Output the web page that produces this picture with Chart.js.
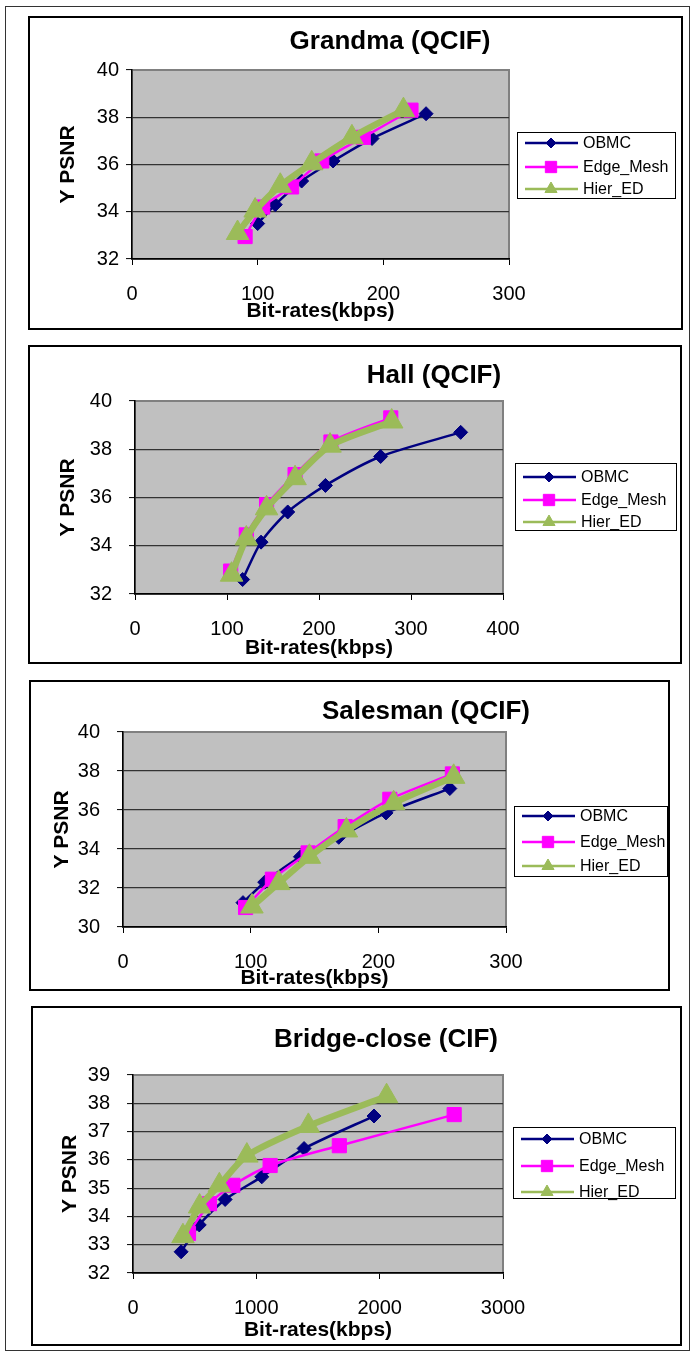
<!DOCTYPE html>
<html>
<head>
<meta charset="utf-8">
<script src="https://cdn.jsdelivr.net/npm/chart.js@4.4.0/dist/chart.umd.min.js"></script>
<style>
  body { margin: 0; background: #fff; width: 696px; height: 1355px; position: relative; overflow: hidden; }
  #frame { position: absolute; left: 5px; top: 6px; width: 685px; height: 1345px; border: 1px solid #333; box-sizing: border-box; }
  .box { position: absolute; border: 2px solid #000; box-sizing: border-box; background: #fff; }
  .box canvas { position: absolute; left: 0; top: 0; }
</style>
</head>
<body>
<div id="frame"></div>
<div class="box" id="b0"><canvas id="c0"></canvas></div>
<div class="box" id="b1"><canvas id="c1"></canvas></div>
<div class="box" id="b2"><canvas id="c2"></canvas></div>
<div class="box" id="b3"><canvas id="c3"></canvas></div>
<script>
// ---- data ----
const seriesNames = ['OBMC', 'Edge_Mesh', 'Hier_ED'];
const chartTitles = ['Grandma (QCIF)', 'Hall (QCIF)', 'Salesman (QCIF)', 'Bridge-close (CIF)'];
const xAxisTitle = 'Bit-rates(kbps)';
const yAxisTitle = 'Y PSNR';

const grandmaXTicks = [0, 100, 200, 300];
const grandmaYTicks = [32, 34, 36, 38, 40];
const grandmaObmcRate = [100, 114, 135, 160, 191, 234];
const grandmaObmcPsnr = [33.5, 34.3, 35.3, 36.15, 37.1, 38.15];
const grandmaEdgeRate = [90, 104, 127, 151, 184, 222];
const grandmaEdgePsnr = [32.95, 34.2, 35.05, 36.15, 37.15, 38.3];
const grandmaHierRate = [84, 98, 118, 143, 175, 216];
const grandmaHierPsnr = [33.1, 34.05, 35.1, 36.05, 37.15, 38.3];

const hallXTicks = [0, 100, 200, 300, 400];
const hallYTicks = [32, 34, 36, 38, 40];
const hallObmcRate = [117, 137, 166, 207, 267, 354];
const hallObmcPsnr = [32.6, 34.15, 35.4, 36.5, 37.7, 38.7];
const hallEdgeRate = [104, 121, 143, 174, 213, 278];
const hallEdgePsnr = [32.95, 34.45, 35.7, 36.95, 38.3, 39.3];
const hallHierRate = [105, 121, 143, 174, 212, 279];
const hallHierPsnr = [32.8, 34.3, 35.55, 36.8, 38.15, 39.15];

const salesmanXTicks = [0, 100, 200, 300];
const salesmanYTicks = [30, 32, 34, 36, 38, 40];
const salesmanObmcRate = [94, 111, 139, 169, 206, 256];
const salesmanObmcPsnr = [31.25, 32.3, 33.6, 34.6, 35.85, 37.1];
const salesmanEdgeRate = [96, 117, 145, 174, 209, 258];
const salesmanEdgePsnr = [31.0, 32.45, 33.8, 35.15, 36.55, 37.85];
const salesmanHierRate = [101, 122, 146, 175, 212, 259];
const salesmanHierPsnr = [31.05, 32.25, 33.6, 34.95, 36.35, 37.7];

const bridgeXTicks = [0, 1000, 2000, 3000];
const bridgeYTicks = [32, 33, 34, 35, 36, 37, 38, 39];
const bridgeObmcRate = [390, 537, 747, 1044, 1387, 1954];
const bridgeObmcPsnr = [32.75, 33.7, 34.6, 35.4, 36.4, 37.55];
const bridgeEdgeRate = [450, 620, 810, 1112, 1673, 2604];
const bridgeEdgePsnr = [33.4, 34.45, 35.1, 35.8, 36.5, 37.6];
const bridgeHierRate = [405, 540, 700, 923, 1422, 2056];
const bridgeHierPsnr = [33.3, 34.35, 35.1, 36.15, 37.2, 38.25];

// ---- styling / layout (page pixels) ----
const FONT = '"Liberation Sans", Arial, sans-serif';
const seriesStyle = [
  { color: '#000080', point: 'rectRot', radius: 7, width: 2.5, legendRadius: 5, order: 3 },
  { color: '#ff00ff', point: 'rect', radius: 10, width: 2.5, legendRadius: 8, order: 2 },
  { color: '#9bbb59', point: 'triangle', radius: 13, width: 6.5, legendRadius: 7, order: 1 }
];

const panels = [
  { box: [28, 16, 683, 330], plot: [132, 70, 509, 259], title: [390, 42], yTitleX: 68, xTitleOff: 52, yPad: 7,
    legend: [517, 132, 676, 199], rows: [143, 167, 189] },
  { box: [28, 345, 682, 664], plot: [135, 401, 503, 594], title: [434, 376], yTitleX: 68, xTitleOff: 54, yPad: 17,
    legend: [515, 463, 677, 531], rows: [477, 500, 522] },
  { box: [29, 680, 670, 991], plot: [123, 732, 506, 927], title: [426, 712], yTitleX: 62, xTitleOff: 51, yPad: 17,
    legend: [514, 806, 668, 877], rows: [816, 842, 866] },
  { box: [31, 1006, 682, 1346], plot: [133, 1075, 503, 1273], title: [386, 1040], yTitleX: 70, xTitleOff: 57, yPad: 17,
    legend: [513, 1127, 676, 1199], rows: [1139, 1166, 1192] }
];

const chartData = [
  { xTicks: grandmaXTicks, yTicks: grandmaYTicks,
    rates: [grandmaObmcRate, grandmaEdgeRate, grandmaHierRate], psnr: [grandmaObmcPsnr, grandmaEdgePsnr, grandmaHierPsnr] },
  { xTicks: hallXTicks, yTicks: hallYTicks,
    rates: [hallObmcRate, hallEdgeRate, hallHierRate], psnr: [hallObmcPsnr, hallEdgePsnr, hallHierPsnr] },
  { xTicks: salesmanXTicks, yTicks: salesmanYTicks,
    rates: [salesmanObmcRate, salesmanEdgeRate, salesmanHierRate], psnr: [salesmanObmcPsnr, salesmanEdgePsnr, salesmanHierPsnr] },
  { xTicks: bridgeXTicks, yTicks: bridgeYTicks,
    rates: [bridgeObmcRate, bridgeEdgeRate, bridgeHierRate], psnr: [bridgeObmcPsnr, bridgeEdgePsnr, bridgeHierPsnr] }
];

// gray plot area, chart title and boxed legend
const panelPlugin = {
  id: 'panel',
  beforeDraw(chart) {
    const { ctx, chartArea: a } = chart;
    ctx.save();
    ctx.fillStyle = '#c0c0c0';
    ctx.fillRect(a.left, a.top, a.width, a.height);
    ctx.strokeStyle = '#808080';
    ctx.lineWidth = 2;
    ctx.strokeRect(a.left, a.top, a.width, a.height);
    ctx.restore();
  },
  afterDraw(chart, args, o) {
    const ctx = chart.ctx;
    ctx.save();
    ctx.fillStyle = '#000';
    ctx.font = 'bold 26px ' + FONT;
    ctx.textAlign = 'center';
    ctx.textBaseline = 'middle';
    ctx.fillText(o.title, o.titleX, o.titleY);

    const [l, t, r, b] = o.legend;
    ctx.fillStyle = '#fff';
    ctx.fillRect(l, t, r - l, b - t);
    ctx.strokeStyle = '#000';
    ctx.lineWidth = 1;
    ctx.strokeRect(l + 0.5, t + 0.5, r - l - 1, b - t - 1);
    chart.data.datasets.forEach((ds, i) => {
      const y = o.rows[i];
      const st = seriesStyle[i];
      ctx.strokeStyle = st.color;
      ctx.lineWidth = 2.5;
      ctx.beginPath();
      ctx.moveTo(l + 8, y);
      ctx.lineTo(l + 61, y);
      ctx.stroke();
      ctx.fillStyle = st.color;
      ctx.lineWidth = 1;
      Chart.helpers.drawPoint(ctx, { pointStyle: st.point, radius: st.legendRadius, rotation: 0, borderWidth: 1 }, l + 34, y);
      ctx.fillStyle = '#000';
      ctx.font = '16px ' + FONT;
      ctx.textAlign = 'left';
      ctx.fillText(ds.label, l + 66, y + 1);
    });
    ctx.restore();
  }
};

panels.forEach((p, k) => {
  const d = chartData[k];
  const [bl, bt, br, bb] = p.box;
  const box = document.getElementById('b' + k);
  box.style.left = bl + 'px';
  box.style.top = bt + 'px';
  box.style.width = (br - bl) + 'px';
  box.style.height = (bb - bt) + 'px';
  const ox = bl + 2, oy = bt + 2;
  const cw = br - bl - 4, ch = bb - bt - 4;
  const canvas = document.getElementById('c' + k);
  canvas.width = cw;
  canvas.height = ch;

  const [pl, pt, pr, pb] = p.plot;
  const yW = pl - ox;
  const xH = oy + ch - pb;
  const titleLH = 21 * 1.2;
  const yMax = d.yTicks[d.yTicks.length - 1];

  const datasets = seriesNames.map((name, i) => {
    const st = seriesStyle[i];
    return {
      label: name,
      data: d.rates[i].map((v, j) => ({ x: v, y: d.psnr[i][j] })),
      borderColor: st.color,
      backgroundColor: st.color,
      borderWidth: st.width,
      pointStyle: st.point,
      pointRadius: st.radius,
      pointBorderWidth: 1,
      pointBackgroundColor: st.color,
      pointBorderColor: st.color,
      tension: 0.25,
      order: st.order,
      clip: 20
    };
  });

  new Chart(canvas, {
    type: 'line',
    data: { datasets },
    plugins: [panelPlugin],
    options: {
      responsive: false,
      animation: false,
      events: [],
      layout: { padding: { left: 0, bottom: 0, top: pt - oy, right: ox + cw - pr } },
      plugins: {
        legend: { display: false },
        tooltip: { enabled: false },
        panel: {
          title: chartTitles[k], titleX: p.title[0] - ox, titleY: p.title[1] - oy,
          legend: [p.legend[0] - ox, p.legend[1] - oy, p.legend[2] - ox, p.legend[3] - oy],
          rows: p.rows.map(r => r - oy)
        }
      },
      scales: {
        x: {
          type: 'linear',
          min: d.xTicks[0],
          max: d.xTicks[d.xTicks.length - 1],
          afterFit: s => { s.height = xH; },
          ticks: { stepSize: d.xTicks[1] - d.xTicks[0], color: '#000', padding: 17,
                   font: { family: FONT, size: 20 }, callback: v => String(v) },
          grid: { drawOnChartArea: false, drawTicks: true, tickLength: 6, tickColor: '#000', tickWidth: 1 },
          border: { display: true, color: '#000', width: 1.5 },
          title: { display: true, text: xAxisTitle, color: '#000',
                   font: { family: FONT, size: 21, weight: 'bold' },
                   padding: { top: 0, bottom: xH - titleLH / 2 - p.xTitleOff } }
        },
        y: {
          type: 'linear',
          min: d.yTicks[0],
          max: yMax,
          afterFit: s => { s.width = yW; },
          ticks: { stepSize: d.yTicks[1] - d.yTicks[0], color: '#000', padding: p.yPad,
                   font: { family: FONT, size: 20 }, callback: v => String(v) },
          grid: {
            color: c => (c.tick && c.tick.value === yMax) ? '#808080' : '#333',
            lineWidth: 1.2, tickLength: 6, tickColor: '#000', tickWidth: 1
          },
          border: { display: true, color: '#000', width: 1.5 },
          title: { display: true, text: yAxisTitle, color: '#000',
                   font: { family: FONT, size: 21, weight: 'bold' },
                   padding: { top: p.yTitleX - ox - titleLH / 2, bottom: 0 } }
        }
      }
    }
  });
});
</script>
</body>
</html>
